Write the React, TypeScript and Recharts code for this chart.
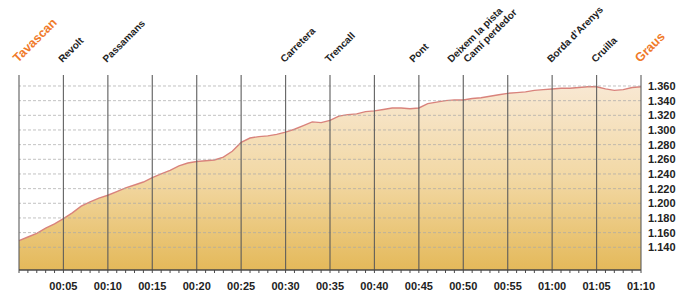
import React from 'react';
import { AreaChart, Area, XAxis, YAxis, ReferenceLine } from 'recharts';

const minutes = [
  0, 1, 2, 3, 4, 5, 6, 7, 8, 9, 10, 11, 12, 13, 14, 15, 16, 17, 18, 19, 20,
  21, 22, 23, 24, 25, 26, 27, 28, 29, 30, 31, 32, 33, 34, 35, 36, 37, 38, 39, 40,
  41, 42, 43, 44, 45, 46, 47, 48, 49, 50, 51, 52, 53, 54, 55, 56, 57, 58, 59, 60,
  61, 62, 63, 64, 65, 66, 67, 68, 69, 70,
];
const elevation = [
  1149, 1154, 1159, 1166, 1172, 1179, 1187, 1196, 1202, 1207, 1211,
  1216, 1221, 1225, 1229, 1235, 1240, 1245, 1251, 1255, 1257,
  1258, 1259, 1263, 1271, 1283, 1289, 1291, 1292, 1294, 1297,
  1301, 1306, 1311, 1310, 1313, 1319, 1321, 1322, 1325, 1326,
  1328, 1330, 1330, 1329, 1330, 1336, 1338, 1340, 1341, 1341,
  1343, 1344, 1346, 1348, 1350, 1351, 1352, 1354, 1355, 1356,
  1357, 1357, 1358, 1359, 1359, 1356, 1354, 1355, 1358, 1359,
];
const xTicks = [0, 5, 10, 15, 20, 25, 30, 35, 40, 45, 50, 55, 60, 65, 70];
const yTicks = [1140, 1160, 1180, 1200, 1220, 1240, 1260, 1280, 1300, 1320, 1340, 1360];
const waypointMinutes = [0, 5, 10, 30, 35, 44.5, 48.8, 50.6, 60, 65, 70];
const waypointNames = [
  'Tavascan', 'Revolt', 'Passamans', 'Carretera', 'Trencall', 'Pont',
  'Deixem la pista', 'Camí perdedor', 'Borda d’Arenys', 'Cruilla', 'Graus',
];
const endpointNames = ['Tavascan', 'Graus'];

const data = minutes.map((m, i) => ({ m, ele: elevation[i] }));

const FONT = '"Liberation Sans", Arial, sans-serif';

const fmtTime = (v: number) => {
  if (v === 0 || !xTicks.includes(v)) return '';
  const h = Math.floor(v / 60);
  const mm = v % 60;
  return `${String(h).padStart(2, '0')}:${String(mm).padStart(2, '0')}`;
};
const fmtEle = (v: number) => `${Math.floor(v / 1000)}.${String(v % 1000).padStart(3, '0')}`;

const WaypointLabel = ({ viewBox, name }: any) => {
  if (!viewBox) return null;
  const isEnd = endpointNames.includes(name);
  const ax = viewBox.x - 1;
  const ay = viewBox.y - 12;
  return (
    <text
      x={ax}
      y={ay}
      transform={`rotate(-45 ${ax} ${ay})`}
      textAnchor="start"
      fontFamily={FONT}
      fontWeight={700}
      fontSize={isEnd ? 12.5 : 10}
      fill={isEnd ? '#f07a2a' : '#1e1e1e'}
    >
      {name}
    </text>
  );
};

export default function App() {
  return (
    <div style={{ position: 'absolute', left: 0, top: 0, width: 678, height: 291, background: '#fff' }}>
      <AreaChart width={678} height={291} data={data} margin={{ top: 75, right: 0, left: 19, bottom: 0 }}>
        <defs>
          <linearGradient id="eleFill" x1="0" y1="0" x2="0" y2="1">
            <stop offset="0%" stopColor="#f8e8d2" />
            <stop offset="50%" stopColor="#f2d8a4" />
            <stop offset="100%" stopColor="#e4b95a" />
          </linearGradient>
        </defs>
        <XAxis
          dataKey="m"
          type="number"
          domain={[0, 70]}
          ticks={minutes}
          interval={0}
          tickFormatter={fmtTime}
          height={21}
          axisLine={{ stroke: '#4a4a4a', strokeWidth: 1.5 }}
          tickLine={{ stroke: '#4a4a4a', strokeWidth: 1 }}
          tickSize={3}
          tickMargin={9}
          tick={{ fill: '#222', fontSize: 11, fontWeight: 700, fontFamily: FONT }}
        />
        <YAxis
          orientation="right"
          type="number"
          domain={[1109, 1375]}
          ticks={yTicks}
          interval={0}
          width={37}
          axisLine={false}
          tickLine={false}
          tickSize={0}
          tickMargin={7}
          tickFormatter={fmtEle}
          tick={{ fill: '#222', fontSize: 11, fontWeight: 700, fontFamily: FONT, textAnchor: 'start' }}
        />
        <Area
          type="linear"
          dataKey="ele"
          stroke="#d9837c"
          strokeWidth={1.4}
          fill="url(#eleFill)"
          fillOpacity={1}
          baseValue={1109}
          isAnimationActive={false}
          dot={false}
        />
        {yTicks.map((v) => (
          <ReferenceLine
            key={`h${v}`}
            y={v}
            stroke="#a8a8a8"
            strokeOpacity={0.7}
            strokeDasharray="3 2"
          />
        ))}
        {xTicks.map((v) => (
          <ReferenceLine key={`v${v}`} x={v} stroke="#5a5a5a" strokeWidth={1.2} strokeOpacity={0.9} />
        ))}
        {waypointMinutes.map((v, i) => (
          <ReferenceLine
            key={`w${v}`}
            x={v}
            stroke="none"
            strokeOpacity={0}
            label={(p: any) => <WaypointLabel viewBox={p.viewBox} name={waypointNames[i]} />}
          />
        ))}
      </AreaChart>
    </div>
  );
}
